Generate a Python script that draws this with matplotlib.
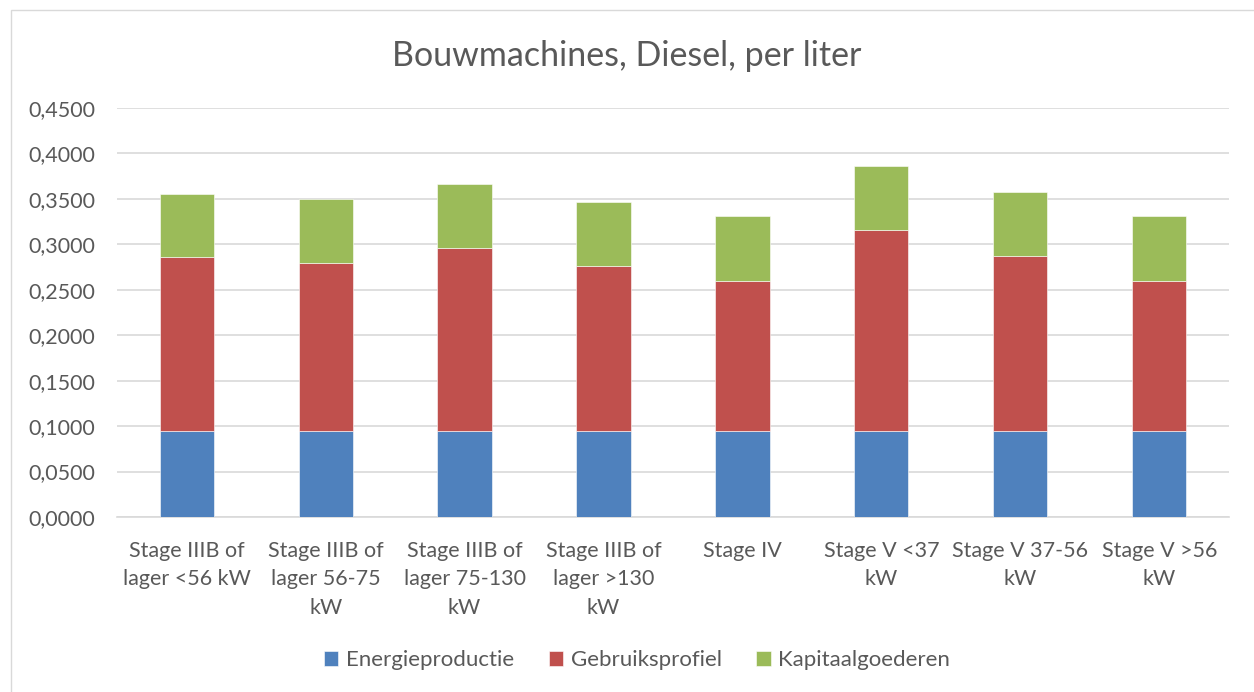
import numpy as np
import matplotlib.pyplot as plt
from matplotlib.patches import Rectangle
from matplotlib.ticker import FuncFormatter

plt.rcParams['font.family'] = ['Lato', 'DejaVu Sans']

categories = [
    "Stage IIIB of\nlager <56 kW",
    "Stage IIIB of\nlager 56-75\nkW",
    "Stage IIIB of\nlager 75-130\nkW",
    "Stage IIIB of\nlager >130\nkW",
    "Stage IV",
    "Stage V <37\nkW",
    "Stage V 37-56\nkW",
    "Stage V >56\nkW",
]
energieproductie = [0.0950, 0.0950, 0.0950, 0.0950, 0.0950, 0.0950, 0.0950, 0.0950]
gebruiksprofiel = [0.1906, 0.1847, 0.2005, 0.1814, 0.1652, 0.2203, 0.1917, 0.1652]
kapitaalgoederen = [0.0701, 0.0705, 0.0709, 0.0705, 0.0710, 0.0705, 0.0709, 0.0710]

series = [
    ("Energieproductie", energieproductie, "#4F81BD"),
    ("Gebruiksprofiel", gebruiksprofiel, "#C0504D"),
    ("Kapitaalgoederen", kapitaalgoederen, "#9BBB59"),
]

text_color = "#595959"
grid_color = "#D9D9D9"

fig = plt.figure(figsize=(12.54, 6.92), dpi=100)
ax = fig.add_axes([0.0935, 0.2529, 0.8863, 0.5910])

# chart border (only left and top edges visible in the crop)
fig.patches.append(Rectangle((11 / 1254, -0.1), 1.2, 1.1 - 10 / 692,
                             transform=fig.transFigure, fill=False,
                             edgecolor="#D9D9D9", linewidth=1.0))

x = np.arange(len(categories))
bottom = np.zeros(len(categories))
for name, vals, color in series:
    ax.bar(x, vals, 0.39, bottom=bottom, color=color, label=name,
           edgecolor="white", linewidth=0.4, zorder=3)
    bottom += np.array(vals)

ax.set_xlim(-0.5, len(categories) - 0.5)
ax.set_ylim(0, 0.45)
ax.set_yticks(np.arange(0, 0.4501, 0.05))
ax.yaxis.set_major_formatter(FuncFormatter(lambda v, p: f"{v:.4f}".replace(".", ",")))
ax.set_xticks(x)
ax.set_xticklabels(categories, linespacing=1.55)

ax.grid(axis="y", color=grid_color, linewidth=1.2, zorder=0)
for side in ["top", "right", "left"]:
    ax.spines[side].set_visible(False)
ax.spines["bottom"].set_color(grid_color)
ax.spines["bottom"].set_linewidth(1.2)
ax.tick_params(axis="both", length=0, labelsize=15.5, colors=text_color)
ax.tick_params(axis="y", pad=16)
ax.tick_params(axis="x", pad=17)

fig.text(0.5, 1 - 56 / 692, "Bouwmachines, Diesel, per liter", ha="center", va="center",
         fontsize=24.5, color=text_color)

leg = fig.legend(loc="center", bbox_to_anchor=(0.508, 1 - 660 / 692), ncol=3,
                 frameon=False, fontsize=16, handlelength=0.65, handleheight=0.65,
                 columnspacing=1.55, handletextpad=0.35)
for t in leg.get_texts():
    t.set_color(text_color)

fig.savefig("out.png", dpi=100)
